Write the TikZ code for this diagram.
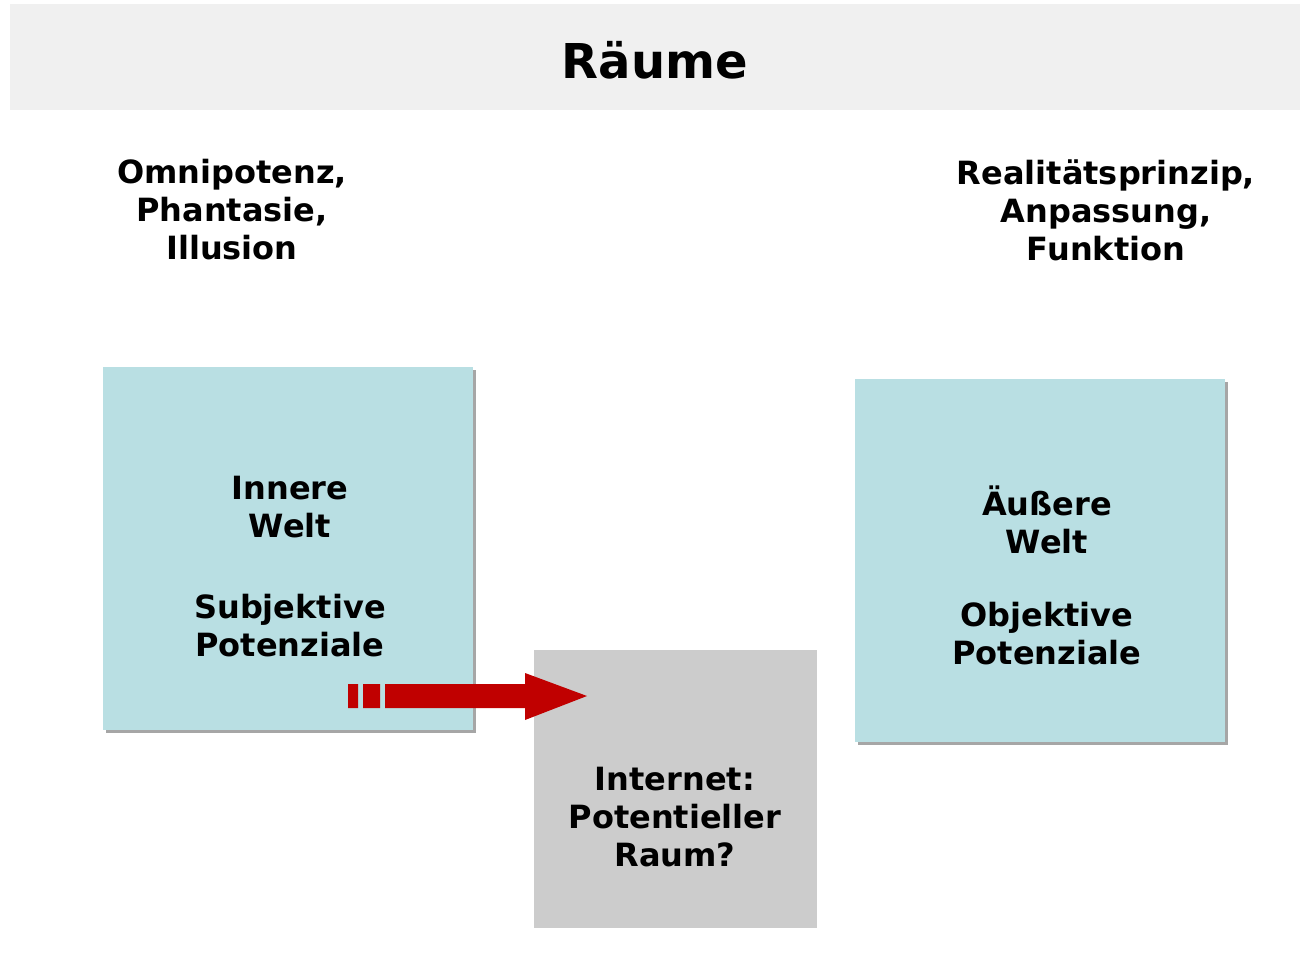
\documentclass[tikz,border=0pt]{standalone}
\usepackage{fontspec}
\setmainfont{DejaVu Sans}
\usetikzlibrary{positioning,shadows}
\definecolor{headgray}{HTML}{F0F0F0}
\definecolor{roomblue}{HTML}{B9DFE3}
\definecolor{netgray}{HTML}{CCCCCC}
\definecolor{shadegray}{HTML}{A6A6A6}
\definecolor{pushred}{HTML}{C00000}

\begin{document}
\begin{tikzpicture}[x=1pt,y=-1pt,
room/.style={fill=roomblue,draw=none,minimum width=370pt,minimum height=363pt,
    drop shadow={shadow xshift=3pt,shadow yshift=-3pt,fill=shadegray,opacity=1}},
netroom/.style={fill=netgray,draw=none,minimum width=283pt,minimum height=278pt},
label/.style={align=center,font=\bfseries\fontsize{32}{38}\selectfont,inner sep=0pt}]
\useasboundingbox (0,0) rectangle (1301,955);

% header
\node[fill=headgray,minimum width=1290pt,minimum height=106pt,inner sep=0pt] (head) at (655,57) {};
\node[font=\bfseries\fontsize{48}{58}\selectfont] (title) at (655,60) {Räume};

% the two worlds
\node[label] (inner) at (232,210) {Omnipotenz,\\Phantasie,\\Illusion};
\node[label] (outer) at (1106,210) {Realitätsprinzip,\\Anpassung,\\Funktion};

\node[room] (IW) at (288,548.5) {};
\node[room] (AW) at (1039.5,560.5) {};
\node[netroom] (NET) at (675.5,789) {};

\node[label] (IWtext) at (290,567) {Innere\\Welt\\[43pt]Subjektive\\Potenziale};
\node[label] (AWtext) at (1047,575) {Äußere\\Welt\\[35pt]Objektive\\Potenziale};
\node[label] (NETtext) at (675,817) {Internet:\\Potentieller\\Raum?};

% arrow into the potential space
\fill[pushred] (348,684) rectangle (358,708)
               (363,684) rectangle (380,708);
\fill[pushred] (385,684) -- (525,684) -- (525,673) -- (587,696)
               -- (525,720) -- (525,708) -- (385,708) -- cycle;
\end{tikzpicture}
\end{document}
